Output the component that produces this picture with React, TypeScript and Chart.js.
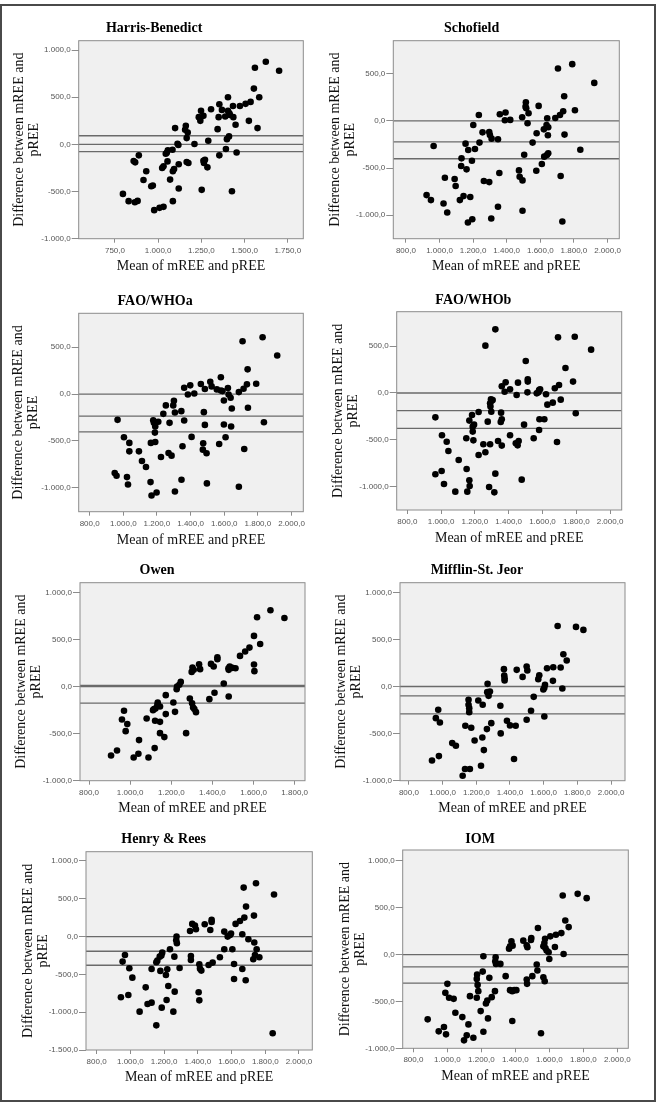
import { useEffect, useRef } from "react";
import { Chart, registerables } from "chart.js";

Chart.register(...registerables);

// ---- Bland–Altman data: [mean of mREE and pREE, difference mREE − pREE] ----

const harrisBenedict: [number, number][] = [
  [1623, 877], [1700, 782], [1560, 813], [1554, 592], [1585, 500], [1535, 451], [1506, 430], [1473, 408], [1433, 408], [1404, 500],
  [1354, 426], [1369, 366], [1306, 373], [1248, 356], [1262, 303], [1235, 289], [1244, 250], [1350, 289], [1344, 162], [1525, 250],
  [1575, 173], [1448, 208], [1435, 289], [1415, 313], [1412, 331], [1404, 356], [1388, 296], [1410, 85], [1398, 56], [1290, 39],
  [1210, 4], [1160, 197], [1156, 155], [1171, 127], [1165, 67], [1098, 173], [1112, 7], [1117, -7], [1083, -56], [1056, -63],
  [1050, -88], [1044, -99], [1054, -180], [1031, -232], [1023, -250], [1092, -261], [1085, -285], [1119, -211], [1069, -373], [1119, -468],
  [1175, -197], [1165, -187], [1262, -173], [1265, -197], [1271, -162], [1285, -243], [1252, -482], [1427, -496], [1354, -116], [1392, -49],
  [1454, -85], [1085, -602], [977, -697], [1008, -673], [1031, -662], [969, -437], [960, -444], [931, -285], [915, -377], [888, -116],
  [858, -176], [867, -190], [796, -525], [829, -602], [865, -613], [881, -599],
];

const schofield: [number, number][] = [
  [1705, 557], [1790, 603], [1921, 404], [1742, 262], [1806, 113], [1736, 103], [1717, 64], [1689, 32], [1514, 199], [1512, 152],
  [1516, 135], [1530, 82], [1590, 160], [1492, 39], [1524, -25], [1578, -131], [1554, -230], [1641, 28], [1637, -43], [1647, -67],
  [1621, -89], [1645, -152], [1744, -145], [1838, -305], [1504, -358], [1647, -344], [1639, -362], [1623, -379], [1609, -457], [1576, -528],
  [1473, -525], [1477, -592], [1494, -631], [1721, -585], [1494, -954], [1731, -1067], [1359, 71], [1389, 7], [1393, 89], [1421, 11],
  [1296, -117], [1300, -149], [1310, -188], [1234, 64], [1256, -121], [1201, -43], [1238, -230], [1348, -195], [1155, -241], [1211, -298],
  [1171, -308], [1131, -397], [1193, -422], [1161, -514], [1129, -479], [1264, -638], [1296, -649], [1356, -553], [1090, -617], [1096, -691],
  [1032, -603], [1121, -840], [1143, -798], [1183, -808], [923, -787], [949, -840], [1024, -876], [1046, -972], [1169, -1078], [1195, -1043],
  [1308, -1035], [1348, -911], [965, -266],
];

const faoWhoA: [number, number][] = [
  [1709, 564], [1828, 607], [1915, 411], [1739, 264], [1790, 111], [1735, 104], [1715, 57], [1687, 21], [1362, 68], [1398, 93],
  [1422, 7], [1384, -4], [1461, 107], [1485, 54], [1517, 132], [1525, 82], [1556, 50], [1580, 179], [1590, 32], [1580, 39],
  [1622, 64], [1626, -4], [1638, -39], [1598, -68], [1479, -193], [1645, -154], [1741, -146], [1836, -300], [1641, -346], [1485, -329],
  [1598, -325], [1608, -461], [1570, -532], [1475, -525], [1473, -593], [1495, -632], [1719, -586], [1497, -953], [1687, -989], [1346, -914],
  [1253, -121], [1297, -121], [1301, -71], [1307, -196], [1345, -182], [1362, -282], [1238, -211], [1275, -307], [1182, -307], [1178, -279],
  [1208, -296], [1190, -346], [1188, -411], [1164, -521], [1190, -511], [1224, -671], [1162, -939], [1168, -1082], [1198, -1050], [1307, -1039],
  [1352, -557], [1406, -457], [1269, -628], [1287, -657], [1093, -611], [1111, -714], [1135, -778], [1036, -521], [1036, -611], [1004, -461],
  [966, -275], [1028, -964], [1022, -886], [949, -843], [960, -871],
];

const faoWhoB: [number, number][] = [
  [966, -259], [966, -865], [1003, -830], [1005, -450], [1017, -968], [1033, -518], [1043, -617], [1084, -1050], [1104, -713], [1149, -482],
  [1151, -808], [1155, -1050], [1167, -929], [1169, -989], [1167, -294], [1183, -234], [1187, -411], [1187, -358], [1195, -337], [1191, -504],
  [1222, -202], [1222, -660], [1250, -546], [1262, 504], [1262, -631], [1276, -305], [1290, -110], [1295, -67], [1299, -82], [1292, -145],
  [1297, -199], [1290, -546], [1284, -1000], [1305, -74], [1321, 677], [1321, -858], [1315, -1057], [1337, -511], [1353, -308], [1359, -280],
  [1355, -209], [1359, -560], [1359, 71], [1382, 113], [1376, 14], [1408, 39], [1408, -450], [1447, -21], [1455, 110], [1442, -535],
  [1453, -557], [1459, -511], [1477, -922], [1491, -337], [1501, 340], [1511, 7], [1513, 121], [1513, 145], [1548, -482], [1566, -4],
  [1576, 7], [1580, 32], [1586, 39], [1580, -394], [1582, -280], [1611, -280], [1621, -14], [1629, -124], [1661, -103], [1673, 50],
  [1686, -521], [1692, 592], [1698, 85], [1708, -71], [1736, 266], [1781, 121], [1791, 599], [1797, -216], [1888, 461],
];

const owen: [number, number][] = [
  [1682, 809], [1617, 735], [1750, 728], [1602, 537], [1632, 452], [1580, 413], [1559, 371], [1534, 325], [1602, 233], [1604, 163],
  [1512, 194], [1497, 198], [1484, 212], [1478, 194], [1479, 177], [1424, 311], [1424, 290], [1393, 240], [1406, 212], [1335, 237],
  [1340, 184], [1303, 201], [1309, 177], [1299, 155], [1410, -67], [1455, 32], [1479, -106], [1385, -134], [1290, -127], [1246, 49],
  [1239, 18], [1228, 0], [1226, -28], [1173, -92], [1210, -170], [1218, -269], [1173, -293], [1301, -177], [1306, -223], [1312, -240],
  [1320, -272], [1272, -495], [1134, -170], [1132, -198], [1145, -212], [1116, -240], [1123, -233], [1111, -251], [1080, -339], [1121, -364],
  [1145, -375], [1145, -495], [1166, -537], [1119, -654], [1043, -569], [1040, -714], [1017, -753], [1089, -753], [970, -258], [960, -350],
  [986, -399], [978, -474], [936, -679], [907, -732],
];

const mifflin: [number, number][] = [
  [1683, 643], [1792, 633], [1836, 601], [1717, 343], [1737, 276], [1701, 201], [1657, 205], [1620, 194], [1655, 60], [1711, -21],
  [1574, 120], [1568, 78], [1608, 18], [1604, -14], [1598, -32], [1604, -318], [1541, -110], [1525, -258], [1499, -353], [1475, 102],
  [1499, 212], [1503, 170], [1440, 177], [1364, 184], [1366, 117], [1368, 88], [1368, 64], [1382, -364], [1400, -413], [1434, -417],
  [1424, -770], [1343, -205], [1345, -498], [1267, 28], [1265, -60], [1273, -99], [1281, -53], [1289, -389], [1263, -452], [1245, -675],
  [1236, -541], [1228, -841], [1238, -194], [1212, -148], [1154, -141], [1154, -194], [1158, -230], [1158, -272], [1135, -417], [1170, -438],
  [1162, -876], [1133, -876], [1119, -947], [1190, -573], [1057, -601], [1079, -629], [974, -247], [960, -336], [984, -382], [937, -785],
  [978, -739],
];

const henryRees: [number, number][] = [
  [1745, 706], [1672, 648], [1852, 556], [1686, 397], [1733, 278], [1676, 251], [1650, 207], [1624, 168], [1664, 31], [1700, -35],
  [1735, -79], [1749, -168], [1765, -274], [1739, -243], [1729, -300], [1684, -578], [1557, 66], [1577, 0], [1591, 22], [1597, 40],
  [1557, -168], [1605, -168], [1615, -362], [1615, -560], [1664, -428], [1531, -274], [1488, -344], [1464, -375], [1441, 163], [1474, 88],
  [1482, 194], [1482, 221], [1383, 146], [1367, 168], [1354, 75], [1359, -256], [1359, -309], [1409, -366], [1413, -424], [1421, -450],
  [1405, -737], [1409, -843], [1389, 97], [1274, 0], [1272, -49], [1276, -88], [1261, -265], [1292, -415], [1263, -728], [1255, -993],
  [1235, -168], [1219, -432], [1189, -212], [1184, -251], [1174, -265], [1178, -454], [1186, -940], [1160, -318], [1154, -340], [1211, -507],
  [1225, -653], [1215, -838], [1126, -428], [1126, -874], [1102, -891], [1154, -1174], [1055, -993], [1091, -671], [988, -772], [944, -803],
  [1012, -543], [994, -419], [968, -243], [954, -331], [1844, -1279],
];

const iom: [number, number][] = [
  [1679, 631], [1767, 649], [1820, 603], [1694, 365], [1714, 294], [1671, 230], [1639, 213], [1606, 195], [1533, 284], [1633, 82],
  [1684, 7], [1575, 170], [1571, 124], [1565, 89], [1577, 71], [1584, 43], [1596, 25], [1600, -46], [1526, -106], [1530, -170],
  [1565, -241], [1573, -284], [1494, 177], [1492, 156], [1447, 149], [1467, 99], [1471, 78], [1500, -230], [1467, -266], [1469, -312],
  [1551, -840], [1377, 142], [1369, 89], [1363, 64], [1384, 96], [1369, -379], [1382, -390], [1394, -379], [1406, -379], [1382, -709],
  [1343, -230], [1286, -99], [1312, -99], [1282, -71], [1284, -28], [1280, -390], [1261, -454], [1227, -521], [1235, -489], [1247, -248],
  [1239, -681], [1208, -181], [1212, -18], [1196, -603], [1212, -823], [1175, -213], [1173, -259], [1178, -323], [1182, -390], [1173, -461],
  [1133, -443], [1124, -745], [1114, -862], [1153, -887], [1098, -915], [1047, -621], [1088, -667], [1000, -312], [988, -408], [1010, -461],
  [1037, -472], [992, -851], [980, -773], [949, -819], [884, -691],
];

// Horizontal reference lines (zero line, mean bias, limit)
const harrisLines = [92, 0, -77];
const schofieldLines = [0, -223, -401];
const faoWhoALines = [0, -236, -404];
const faoWhoBLines = [0, -188, -376];
const owenLines = [12, 0, -177];
const mifflinLines = [0, -99, -290];
const henryLines = [0, -194, -379];
const iomLines = [0, -131, -305];

// Axis ticks
const xTicks250 = [750, 1000, 1250, 1500, 1750];
const xTicks200 = [800, 1000, 1200, 1400, 1600, 1800, 2000];
const xTicks200Short = [800, 1000, 1200, 1400, 1600, 1800];
const yTicks1000 = [-1000, -500, 0, 500, 1000];
const yTicks500 = [-1000, -500, 0, 500];
const yTicks1500 = [-1500, -1000, -500, 0, 500, 1000];

const SERIF = "'Liberation Serif', 'Times New Roman', serif";
const SANS = "'Liberation Sans', Arial, sans-serif";

type Box = { plot: [number, number, number, number]; title: [number, number]; yTitleX: number; xTitleY: number };

type Panel = {
  title: string;
  points: [number, number][];
  lines: number[];
  xRange: [number, number];
  yRange: [number, number];
  xTicks: number[];
  yTicks: number[];
  box: Box;
};

const panels: Panel[] = [
  { title: "Harris-Benedict", points: harrisBenedict, lines: harrisLines, xRange: [540, 1840], yRange: [-1000, 1100], xTicks: xTicks250, yTicks: yTicks1000,
    box: { plot: [78.7, 40.7, 303.3, 238.7], title: [154, 28.3], yTitleX: 19, xTitleY: 266.7 } },
  { title: "Schofield", points: schofield, lines: schofieldLines, xRange: [725, 2070], yRange: [-1250, 852], xTicks: xTicks200, yTicks: yTicks500,
    box: { plot: [393.3, 40.7, 619.3, 238.7], title: [471.7, 28.3], yTitleX: 335, xTitleY: 266.7 } },
  { title: "FAO/WHOa", points: faoWhoA, lines: faoWhoALines, xRange: [735, 2070], yRange: [-1255, 862], xTicks: xTicks200, yTicks: yTicks500,
    box: { plot: [78.7, 313.3, 303.3, 511.7], title: [155, 301.7], yTitleX: 18.3, xTitleY: 540 } },
  { title: "FAO/WHOb", points: faoWhoB, lines: faoWhoBLines, xRange: [737, 2069], yRange: [-1245, 865], xTicks: xTicks200, yTicks: yTicks500,
    box: { plot: [396.7, 311.7, 621.7, 510], title: [473.3, 300], yTitleX: 338.3, xTitleY: 538.3 } },
  { title: "Owen", points: owen, lines: owenLines, xRange: [756, 1850], yRange: [-1000, 1102], xTicks: xTicks200Short, yTicks: yTicks1000,
    box: { plot: [80, 582.7, 305, 780.7], title: [157, 570.7], yTitleX: 21.7, xTitleY: 808.3 } },
  { title: "Mifflin-St. Jeor", points: mifflin, lines: mifflinLines, xRange: [747, 2083], yRange: [-1000, 1102], xTicks: xTicks200, yTicks: yTicks1000,
    box: { plot: [400, 582.7, 625, 780.7], title: [477, 570.7], yTitleX: 341.7, xTitleY: 808.3 } },
  { title: "Henry & Rees", points: henryRees, lines: henryLines, xRange: [737, 2079], yRange: [-1500, 1123], xTicks: xTicks200, yTicks: yTicks1500,
    box: { plot: [86, 851.7, 312.3, 1050], title: [163.7, 839], yTitleX: 28.3, xTitleY: 1077.3 } },
  { title: "IOM", points: iom, lines: iomLines, xRange: [737, 2065], yRange: [-1000, 1117], xTicks: xTicks200, yTicks: yTicks1000,
    box: { plot: [402.7, 850, 628.3, 1048.3], title: [480.3, 839], yTitleX: 345, xTitleY: 1076.7 } },
];

// Number format with "." thousands separator and "," decimal mark
const euro = (v: number) => {
  const s = Math.abs(v).toFixed(0).replace(/\B(?=(\d{3})+(?!\d))/g, ".");
  return (v < 0 ? "-" : "") + s + ",0";
};

const TITLE_LH = 14 * 1.2;

function geometry(b: Box) {
  const [l, t, r, bt] = b.plot;
  const [cx, cy] = b.title;
  const left = Math.round(2 * cx - r);
  const top = Math.round(cy - 11);
  const w = Math.round(r + 6 - left);
  const padRight = left + w - r;
  const titleTop = cy - top - TITLE_LH / 2;
  const titleBottom = t - cy - TITLE_LH / 2;
  const yAxisW = l - left;
  const yTitlePad = b.yTitleX - left - 7.5;
  const xAxisH = b.xTitleY + 7.5 + 2 - bt;
  const h = Math.ceil(bt + xAxisH - top + 1);
  const padBottom = h - (bt - top) - xAxisH;
  return { left, top, w, h, padRight, padBottom, titleTop, titleBottom, yAxisW, yTitlePad, xAxisH };
}

// Shaded plot background and frame around the plotting area
const plotFrame = {
  id: "plotFrame",
  beforeDraw(chart: any) {
    const { ctx, chartArea } = chart;
    ctx.save();
    ctx.fillStyle = "#f0f0f0";
    ctx.fillRect(chartArea.left, chartArea.top, chartArea.right - chartArea.left, chartArea.bottom - chartArea.top);
    ctx.restore();
  },
  afterDraw(chart: any) {
    const { ctx, chartArea } = chart;
    ctx.save();
    ctx.strokeStyle = "#8c8c8c";
    ctx.lineWidth = 1;
    ctx.strokeRect(chartArea.left, chartArea.top, chartArea.right - chartArea.left, chartArea.bottom - chartArea.top);
    ctx.restore();
  },
};

function PanelChart({ p }: { p: Panel }) {
  const ref = useRef<HTMLCanvasElement>(null);
  const g = geometry(p.box);

  useEffect(() => {
    if (!ref.current) return;
    const chart = new Chart(ref.current, {
      type: "scatter",
      data: {
        datasets: [
          {
            data: p.points.map(([x, y]) => ({ x, y })),
            pointRadius: 3.3,
            pointBackgroundColor: "#000",
            pointBorderColor: "#000",
            pointBorderWidth: 0,
          },
          ...p.lines.map((v) => ({
            data: [
              { x: p.xRange[0], y: v },
              { x: p.xRange[1], y: v },
            ],
            showLine: true,
            pointRadius: 0,
            borderColor: "#6a6a6a",
            borderWidth: 1.3,
          })),
        ],
      },
      options: {
        responsive: false,
        animation: false,
        events: [],
        layout: { padding: { left: 0, top: 0, right: g.padRight, bottom: g.padBottom } },
        plugins: {
          legend: { display: false },
          tooltip: { enabled: false },
          title: {
            display: true,
            text: p.title,
            color: "#000",
            font: { family: SERIF, size: 14, weight: "bold", lineHeight: 1.2 },
            padding: { top: g.titleTop, bottom: g.titleBottom },
          },
        },
        scales: {
          x: {
            type: "linear",
            min: p.xRange[0],
            max: p.xRange[1],
            afterBuildTicks: (s: any) => {
              s.ticks = p.xTicks.map((value) => ({ value }));
            },
            afterFit: (s: any) => {
              s.height = g.xAxisH;
              s.paddingLeft = 0;
              s.paddingRight = 0;
            },
            ticks: {
              callback: (v: any) => euro(Number(v)),
              font: { family: SANS, size: 8 },
              color: "#555",
              padding: 3,
              maxRotation: 0,
              autoSkip: false,
            },
            grid: { drawOnChartArea: false, drawTicks: true, tickLength: 4, color: "#8c8c8c" },
            border: { display: false },
            title: {
              display: true,
              text: "Mean of mREE and pREE",
              color: "#111",
              font: { family: SERIF, size: 14, lineHeight: 1.07 },
              padding: { top: 0, bottom: 2 },
            },
          },
          y: {
            type: "linear",
            min: p.yRange[0],
            max: p.yRange[1],
            afterBuildTicks: (s: any) => {
              s.ticks = p.yTicks.map((value) => ({ value }));
            },
            afterFit: (s: any) => {
              s.width = g.yAxisW;
              s.paddingTop = 0;
              s.paddingBottom = 0;
            },
            ticks: {
              callback: (v: any) => euro(Number(v)),
              font: { family: SANS, size: 8 },
              color: "#555",
              padding: 1,
              autoSkip: false,
            },
            grid: { drawOnChartArea: false, drawTicks: true, tickLength: 7, color: "#8c8c8c" },
            border: { display: false },
            title: {
              display: true,
              text: ["Difference between mREE and", "pREE"],
              color: "#111",
              font: { family: SERIF, size: 14, lineHeight: 1.07 },
              padding: { top: g.yTitlePad, bottom: 0 },
            },
          },
        },
      },
      plugins: [plotFrame],
    } as any);
    return () => chart.destroy();
  }, []);

  return (
    <canvas
      ref={ref}
      width={g.w}
      height={g.h}
      style={{ position: "absolute", left: g.left, top: g.top, width: g.w, height: g.h }}
    />
  );
}

export default function App() {
  return (
    <div style={{ position: "absolute", left: 0, top: 0, width: 663, height: 1106, background: "#fff", overflow: "hidden" }}>
      <div
        style={{
          position: "absolute",
          left: 0,
          top: 4,
          width: 656,
          height: 1098,
          border: "2px solid #4a4a4a",
          boxSizing: "border-box",
        }}
      />
      {panels.map((p) => (
        <PanelChart key={p.title} p={p} />
      ))}
    </div>
  );
}
